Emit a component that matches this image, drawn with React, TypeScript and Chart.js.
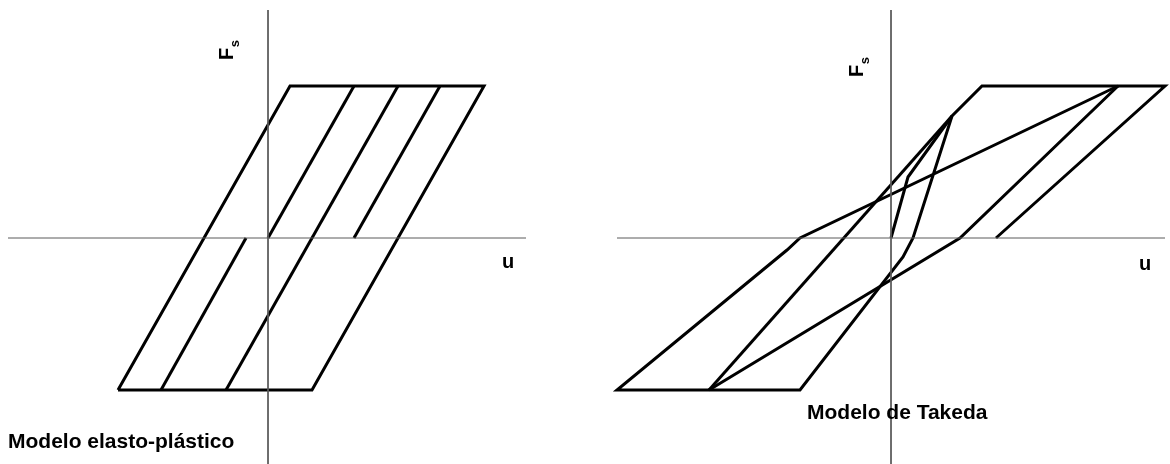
import React, { useEffect, useRef } from "react";
import { Chart, registerables } from "chart.js";

Chart.register(...registerables);

// ---------- Data (displacement u, force Fs; arbitrary units, origin at axes crossing) ----------
// Elasto-plastic model
const epOuterU = [-150, 22, 216, 44, -150];
const epOuterF = [-152, 152, 152, -152, -152];
const epBranch1U = [-107, -22];
const epBranch1F = [-152, 0];
const epBranch2U = [-42, 130];
const epBranch2F = [-152, 152];
const epBranch3U = [0, 86];
const epBranch3F = [0, 152];
const epBranch4U = [86, 172];
const epBranch4F = [0, 152];

// Takeda model
const tkPathAU = [0, 17, 61, 91, 274, 105];
const tkPathAF = [0, 61, 122, 152, 152, 0];
const tkPathBU = [227, 69, -182];
const tkPathBF = [152, 0, -152];
const tkPathDU = [-182, 61];
const tkPathDF = [-152, 122];
const tkPathCU = [61, 22, 12, -91, -274, -104, -91, 227];
const tkPathCF = [122, 0, -19, -152, -152, -12, 0, 152];

// Axes extents
const epAxisU = [-260, 258];
const epAxisF = [228, -226];
const tkAxisU = [-274, 274];
const tkAxisF = [228, -226];

const pts = (u: number[], f: number[]) => u.map((x, i) => ({ x, y: f[i] }));

const curve = (u: number[], f: number[]) => ({
  data: pts(u, f),
  showLine: true,
  borderColor: "#000000",
  backgroundColor: "#000000",
  borderWidth: 3,
  pointRadius: 0,
  fill: false,
  tension: 0,
  borderJoinStyle: "miter" as const,
  borderCapStyle: "butt" as const,
});

const axisLine = (u: number[], f: number[]) => ({
  data: pts(u, f),
  showLine: true,
  borderColor: "#5a5a5a",
  borderWidth: 1,
  pointRadius: 0,
  fill: false,
  tension: 0,
});

type Labels = {
  title: string;
  titleX: number;
  titleY: number;
  uX: number;
  uY: number;
  fX: number;
  fY: number;
};

const FONT = '"Liberation Sans", Arial, Helvetica, sans-serif';

const labelPlugin = (lab: Labels) => ({
  id: "labels",
  afterDraw(chart: any) {
    const ctx = chart.ctx as CanvasRenderingContext2D;
    ctx.save();
    ctx.fillStyle = "#000";
    ctx.textBaseline = "alphabetic";
    ctx.font = `bold 21px ${FONT}`;
    ctx.textAlign = "left";
    ctx.fillText(lab.title, lab.titleX, lab.titleY);
    ctx.font = `bold 20px ${FONT}`;
    ctx.textAlign = "center";
    ctx.fillText("u", lab.uX, lab.uY);
    // Rotated F_s
    ctx.translate(lab.fX, lab.fY);
    ctx.rotate(-Math.PI / 2);
    ctx.textAlign = "left";
    ctx.font = `bold 20px ${FONT}`;
    ctx.fillText("F", 0, 0);
    const w = ctx.measureText("F").width;
    ctx.font = `bold 13px ${FONT}`;
    ctx.fillText("s", w + 0.5, 6);
    ctx.restore();
  },
});

function makeChart(
  canvas: HTMLCanvasElement,
  datasets: any[],
  xmin: number,
  xmax: number,
  ymin: number,
  ymax: number,
  lab: Labels
) {
  return new Chart(canvas, {
    type: "scatter",
    data: { datasets },
    options: {
      responsive: false,
      maintainAspectRatio: false,
      animation: false,
      layout: { padding: 0 },
      plugins: { legend: { display: false }, tooltip: { enabled: false } },
      scales: {
        x: { type: "linear", min: xmin, max: xmax, display: false },
        y: { type: "linear", min: ymin, max: ymax, display: false },
      },
    },
    plugins: [labelPlugin(lab)],
  } as any);
}

export default function App() {
  const leftRef = useRef<HTMLCanvasElement>(null);
  const rightRef = useRef<HTMLCanvasElement>(null);

  useEffect(() => {
    const left = makeChart(
      leftRef.current!,
      [
        axisLine(epAxisU, [0, 0]),
        axisLine([0, 0], epAxisF),
        curve(epOuterU, epOuterF),
        curve(epBranch1U, epBranch1F),
        curve(epBranch2U, epBranch2F),
        curve(epBranch3U, epBranch3F),
        curve(epBranch4U, epBranch4F),
      ],
      -268,
      317,
      -226,
      238,
      {
        title: "Modelo elasto-plástico",
        titleX: 8,
        titleY: 448,
        uX: 508,
        uY: 268,
        fX: 233,
        fY: 60,
      }
    );
    const right = makeChart(
      rightRef.current!,
      [
        axisLine(tkAxisU, [0, 0]),
        axisLine([0, 0], tkAxisF),
        curve(tkPathAU, tkPathAF),
        curve(tkPathBU, tkPathBF),
        curve(tkPathDU, tkPathDF),
        curve(tkPathCU, tkPathCF),
      ],
      -306,
      279,
      -226,
      238,
      {
        title: "Modelo de Takeda",
        titleX: 222,
        titleY: 419,
        uX: 560,
        uY: 270,
        fX: 278,
        fY: 77,
      }
    );
    return () => {
      left.destroy();
      right.destroy();
    };
  }, []);

  return (
    <div
      style={{
        position: "absolute",
        left: 0,
        top: 0,
        width: 1170,
        height: 464,
        background: "#fff",
        display: "flex",
      }}
    >
      <canvas ref={leftRef} width={585} height={464} style={{ width: 585, height: 464, display: "block" }} />
      <canvas ref={rightRef} width={585} height={464} style={{ width: 585, height: 464, display: "block" }} />
    </div>
  );
}
